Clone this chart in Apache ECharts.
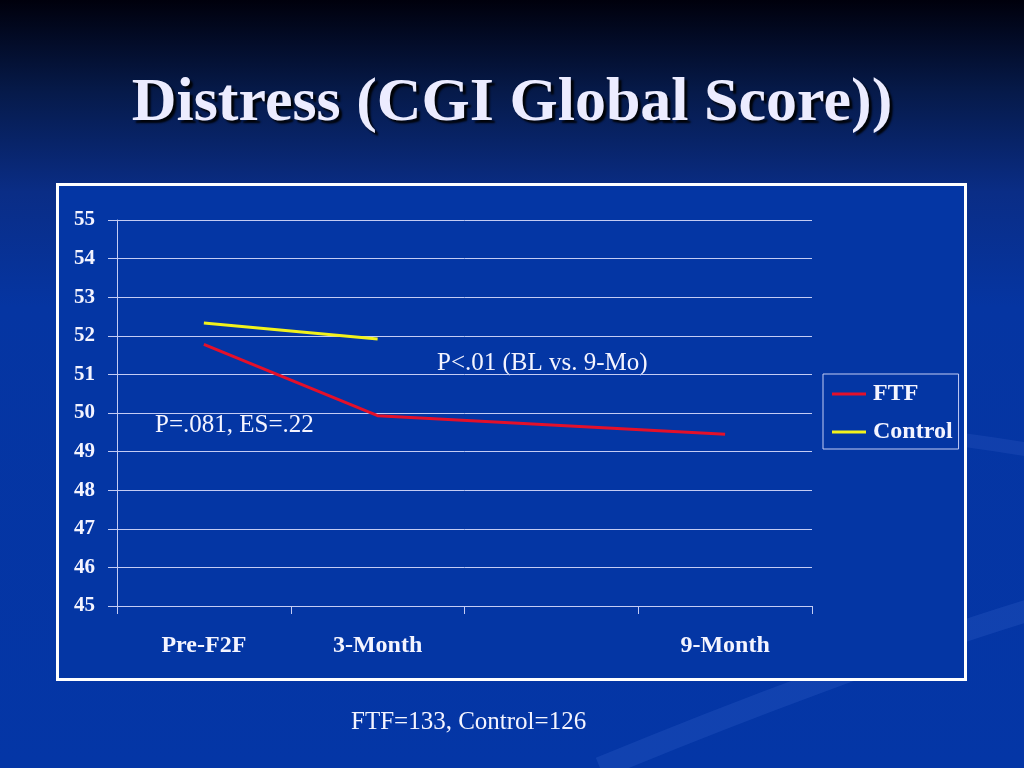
<!DOCTYPE html>
<html>
<head>
<meta charset="utf-8">
<script src="https://cdn.jsdelivr.net/npm/echarts@6/dist/echarts.min.js"></script>
<style>
  html, body { margin: 0; padding: 0; }
  #chart { width: 1024px; height: 768px; }
</style>
</head>
<body>
<div id="chart"></div>
<script>
// data
const categories = ['Pre-F2F', '3-Month', '', '9-Month'];
const ftfValues = [51.78, 49.93, null, 49.45];
const controlValues = [52.33, 51.92, null, null];
const yMin = 45;
const yMax = 55;

const serif = '"Liberation Serif", "Times New Roman", serif';
const textColor = '#f4f4ff';
const gridColor = '#c4ccf4';

const chart = echarts.init(document.getElementById('chart'));

chart.setOption({
    backgroundColor: {
        type: 'linear', x: 0, y: 0, x2: 0, y2: 1,
        colorStops: [
            { offset: 0, color: '#00000c' },
            { offset: 0.12, color: '#061a4a' },
            { offset: 0.25, color: '#0a2d86' },
            { offset: 0.4, color: '#0535a2' },
            { offset: 1, color: '#0436a6' }
        ]
    },
    title: {
        text: 'Distress (CGI Global Score))',
        left: 'center',
        top: 68,
        textStyle: {
            fontFamily: serif,
            fontWeight: 'bold',
            fontSize: 62,
            color: '#ececff',
            textShadowColor: 'rgba(0,0,0,0.9)',
            textShadowOffsetX: 3,
            textShadowOffsetY: 3,
            textShadowBlur: 2
        }
    },
    graphic: [
        {
            type: 'bezierCurve',
            silent: true,
            z: -1,
            shape: { x1: 600, y1: 768, cpx1: 740, cpy1: 710, cpx2: 900, cpy2: 650, x2: 1030, y2: 610 },
            style: { stroke: 'rgba(90,130,230,0.16)', lineWidth: 22, fill: null }
        },
        {
            type: 'bezierCurve',
            silent: true,
            z: -1,
            shape: { x1: 610, y1: 480, cpx1: 660, cpy1: 420, cpx2: 820, cpy2: 415, x2: 1030, y2: 450 },
            style: { stroke: 'rgba(90,130,230,0.14)', lineWidth: 14, fill: null }
        },
        {
            type: 'rect',
            silent: true,
            shape: { x: 57.5, y: 184.5, width: 908, height: 495 },
            style: { fill: '#0436a4', stroke: '#ffffff', lineWidth: 3 }
        },
        {
            type: 'text',
            left: 437, top: 351,
            style: { text: 'P<.01 (BL vs. 9-Mo)', font: '25px ' + serif, fill: textColor }
        },
        {
            type: 'text',
            left: 155, top: 413,
            style: { text: 'P=.081, ES=.22', font: '25px ' + serif, fill: textColor }
        },
        {
            type: 'text',
            left: 351, top: 710,
            style: { text: 'FTF=133, Control=126', font: '25px ' + serif, fill: textColor }
        }
    ],
    legend: {
        orient: 'vertical',
        left: 823,
        top: 374,
        padding: [8, 6, 5, 9],
        itemGap: 14,
        itemWidth: 34,
        itemHeight: 3,
        icon: 'rect',
        borderColor: gridColor,
        borderWidth: 1,
        textStyle: { fontFamily: serif, fontWeight: 'bold', fontSize: 24, color: textColor, padding: [0, 0, 0, 2] },
        data: ['FTF', 'Control']
    },
    grid: {
        left: 117,
        right: 1024 - 812,
        top: 220,
        bottom: 768 - 606,
        show: true,
        borderColor: gridColor,
        borderWidth: 1,
        containLabel: false
    },
    xAxis: {
        type: 'category',
        data: categories,
        boundaryGap: true,
        axisLine: { lineStyle: { color: gridColor, width: 1 } },
        axisTick: { show: true, interval: 0, length: 8, lineStyle: { color: gridColor } },
        axisLabel: {
            interval: 0,
            margin: 28,
            fontFamily: serif,
            fontWeight: 'bold',
            fontSize: 24,
            color: textColor
        },
        splitLine: { show: false }
    },
    yAxis: {
        type: 'value',
        min: yMin,
        max: yMax,
        interval: 1,
        axisLine: { show: true, lineStyle: { color: gridColor, width: 1 } },
        axisTick: { show: true, length: 9, lineStyle: { color: gridColor } },
        axisLabel: {
            margin: 22,
            fontFamily: serif,
            fontWeight: 'bold',
            fontSize: 21,
            color: textColor
        },
        splitLine: { show: true, lineStyle: { color: gridColor, width: 1 } }
    },
    series: [
        {
            name: 'FTF',
            type: 'line',
            data: ftfValues,
            connectNulls: true,
            showSymbol: false,
            symbol: 'none',
            color: '#e4102a',
            lineStyle: { color: '#e4102a', width: 3 },
            animation: false
        },
        {
            name: 'Control',
            type: 'line',
            data: controlValues,
            showSymbol: false,
            symbol: 'none',
            color: '#f2f21c',
            lineStyle: { color: '#f2f21c', width: 3 },
            animation: false
        }
    ],
    animation: false
});
</script>
</body>
</html>
